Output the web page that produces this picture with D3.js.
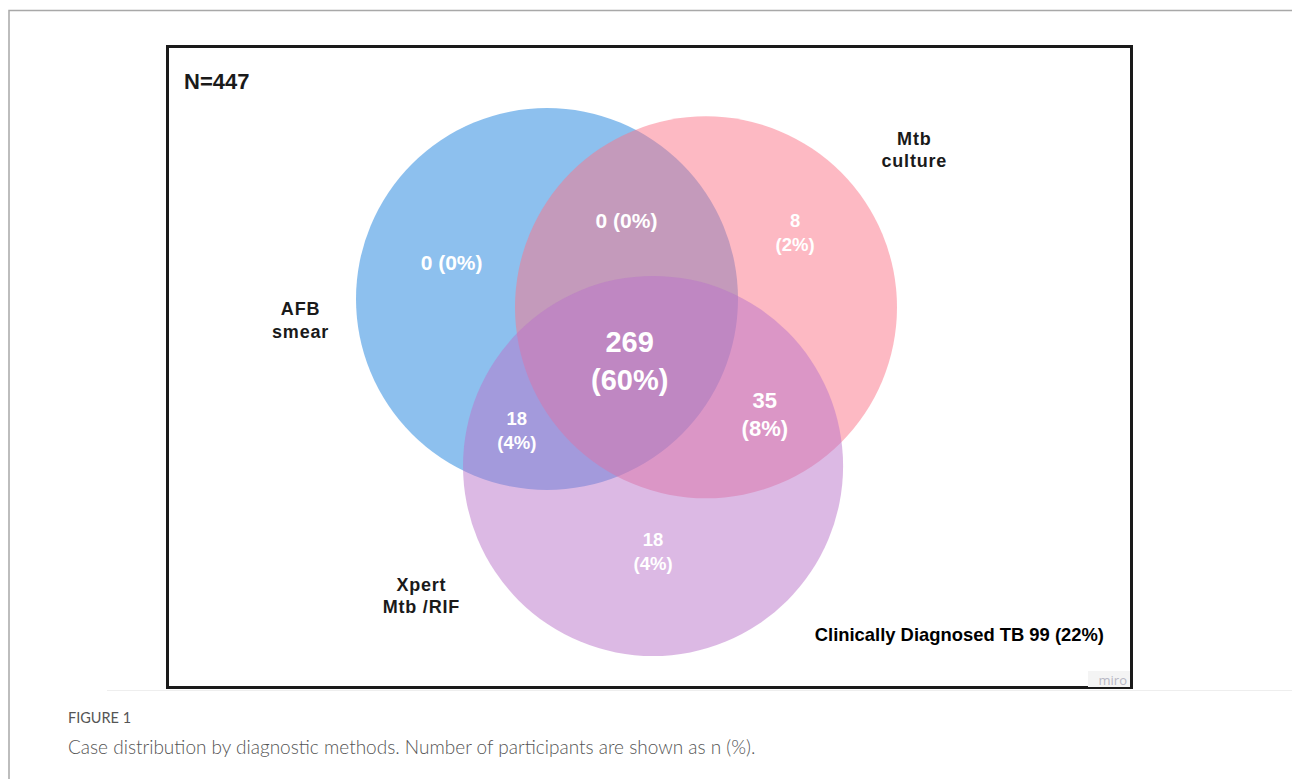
<!DOCTYPE html>
<html>
<head>
<meta charset="utf-8">
<script src="https://cdn.jsdelivr.net/npm/d3@7"></script>
<style>
  body { margin: 0; background: #fff; }
  svg { display: block; }
</style>
</head>
<body>
<div id="chartContainer"></div>
<script>
// Venn of diagnostic methods, N=447
var total = 447;
var setNames = ["AFB smear", "Mtb culture", "Xpert Mtb /RIF"];
var regionKeys = ["A", "AB", "B", "ABC", "AC", "BC", "C"];
var regionCounts = [0, 0, 8, 269, 18, 35, 18];
var regionPct = [0, 0, 2, 60, 4, 8, 4];
var clinicalCount = 99, clinicalPct = 22;

var svg = d3.select("#chartContainer").append("svg")
  .attr("width", 1292).attr("height", 779);

// outer page frame
svg.append("path").attr("d", "M9,779 V10.5 H1292")
  .attr("fill", "none").attr("stroke", "#a8a8a8").attr("stroke-width", 1.5);
svg.append("line").attr("x1", 107).attr("x2", 1292).attr("y1", 690.5).attr("y2", 690.5)
  .attr("stroke", "#eeeeee").attr("stroke-width", 1);

// figure box
svg.append("rect").attr("x", 167.5).attr("y", 46.5).attr("width", 964).attr("height", 641)
  .attr("fill", "#fff").attr("stroke", "#1a1a1a").attr("stroke-width", 3);

// Venn layout in unit space, mapped with linear scales
var x = d3.scaleLinear().domain([0, 1]).range([547, 706]);
var y = d3.scaleLinear().domain([0, 1]).range([299, 466]);
var rScale = d3.scaleLinear().domain([0, 1]).range([0, 191]);
var circles = [
  { name: setNames[0], cx: 0, cy: 0, r: 1, color: "rgb(27,129,221)" },
  { name: setNames[1], cx: 1, cy: 0.05, r: 1, color: "rgb(251,115,135)" },
  { name: setNames[2], cx: 0.667, cy: 1, r: 0.995, color: "rgb(185,115,201)" }
];

svg.append("g").selectAll("circle").data(circles).join("circle")
  .attr("cx", function (d) { return x(d.cx); })
  .attr("cy", function (d) { return y(d.cy); })
  .attr("r", function (d) { return rScale(d.r); })
  .attr("fill", function (d) { return d.color; })
  .attr("fill-opacity", 0.5);

// label anchor points for each region (unit space)
var regionPos = {
  A: [-0.6, -0.22], AB: [0.5, -0.47], B: [1.56, -0.40],
  ABC: [0.52, 0.37], AC: [-0.19, 0.79], BC: [1.37, 0.69], C: [0.667, 1.51]
};
var regionSize = { A: 21, AB: 21, B: 18.5, ABC: 29, AC: 18.5, BC: 22, C: 18.5 };
var oneLine = { A: true, AB: true };

var labels = regionKeys.map(function (k, i) {
  return { key: k, n: regionCounts[i], pct: regionPct[i] };
});

var lg = svg.append("g").attr("fill", "#fff")
  .attr("font-family", "'Liberation Sans', Arial, sans-serif").attr("font-weight", "bold")
  .attr("text-anchor", "middle");

labels.forEach(function (d) {
  var p = regionPos[d.key], fs = regionSize[d.key];
  var t = lg.append("text").attr("font-size", fs + "px")
    .attr("x", x(p[0])).attr("y", y(p[1]));
  if (oneLine[d.key]) {
    t.attr("dy", "0.35em").text(d.n + " (" + d.pct + "%)");
  } else {
    var gap = fs * 1.3;
    t.append("tspan").attr("x", x(p[0])).attr("dy", (-gap / 2 + fs * 0.35) + "px").text(d.n);
    t.append("tspan").attr("x", x(p[0])).attr("dy", gap + "px").text("(" + d.pct + "%)");
  }
});

// set names
var namePos = [[-1.55, 0.13], [2.31, -0.89], [-0.79, 1.78]];
var nameLines = [["AFB", "smear"], ["Mtb", "culture"], ["Xpert", "Mtb /RIF"]];
var ng = svg.append("g").attr("fill", "#1a1a1a")
  .attr("font-family", "'Liberation Sans', Arial, sans-serif").attr("font-weight", "bold")
  .attr("font-size", "18px").attr("text-anchor", "middle");
setNames.forEach(function (s, i) {
  var t = ng.append("text").attr("x", x(namePos[i][0])).attr("y", y(namePos[i][1]))
    .attr("letter-spacing", "0.8px");
  t.append("tspan").attr("x", x(namePos[i][0])).attr("dy", "-0.3em").text(nameLines[i][0]);
  t.append("tspan").attr("x", x(namePos[i][0])).attr("dy", "1.25em").text(nameLines[i][1]);
});

svg.append("text").attr("x", 184).attr("y", 89)
  .attr("font-family", "'Liberation Sans', Arial, sans-serif").attr("font-weight", "bold")
  .attr("font-size", "22px").attr("fill", "#1a1a1a").text("N=" + total);

svg.append("text").attr("x", 1104).attr("y", 641).attr("text-anchor", "end")
  .attr("font-family", "'Liberation Sans', Arial, sans-serif").attr("font-weight", "bold")
  .attr("font-size", "18.4px").attr("fill", "#000")
  .text("Clinically Diagnosed TB " + clinicalCount + " (" + clinicalPct + "%)");

// miro watermark
svg.append("rect").attr("x", 1088).attr("y", 671).attr("width", 42).attr("height", 16).attr("fill", "#f4f4f4");
svg.append("text").attr("x", 1127).attr("y", 685).attr("text-anchor", "end")
  .attr("font-family", "'Open Sans', sans-serif").attr("font-size", "13px").attr("fill", "#b8b8c4")
  .text("miro");

// caption
svg.append("text").attr("x", 68).attr("y", 723)
  .attr("font-family", "Lato, sans-serif").attr("font-size", "14.5px").attr("fill", "#555")
  .text("FIGURE 1");
svg.append("text").attr("x", 68).attr("y", 754)
  .attr("font-family", "Lato, sans-serif").attr("font-size", "19px").attr("fill", "#555")
  .attr("font-weight", 300)
  .text("Case distribution by diagnostic methods. Number of participants are shown as n (%).");
</script>
</body>
</html>
